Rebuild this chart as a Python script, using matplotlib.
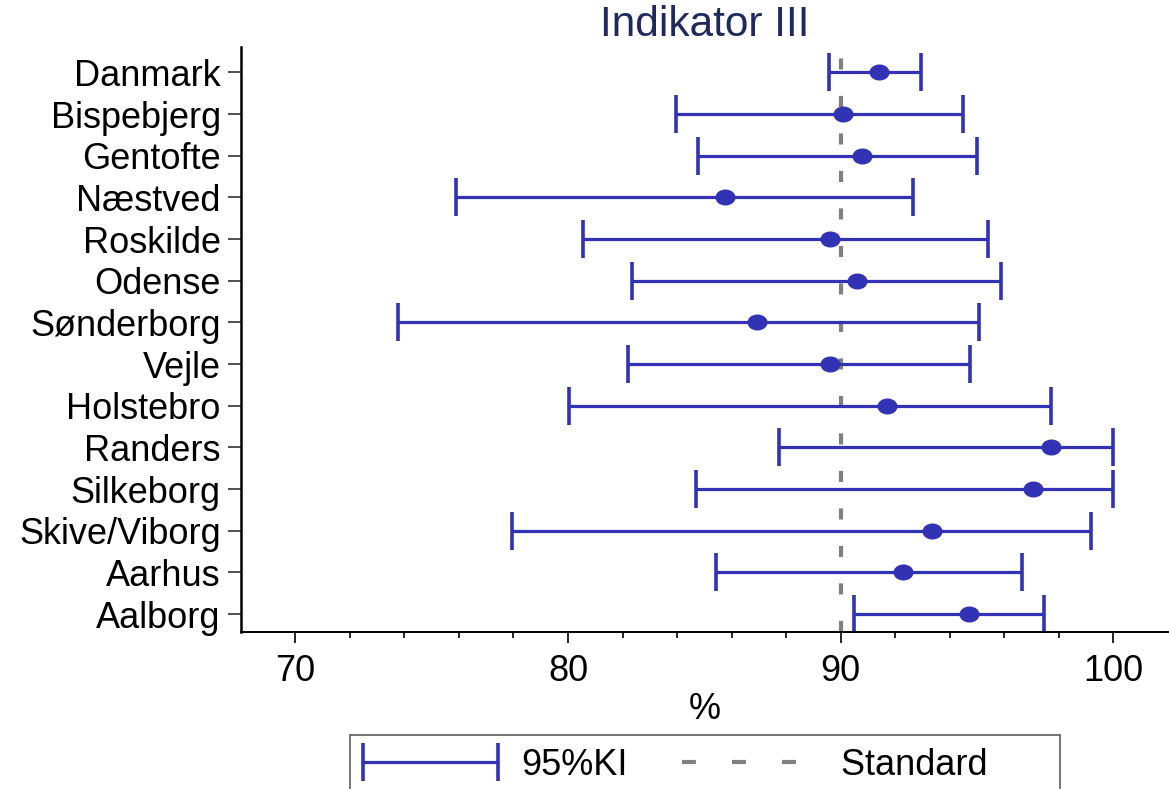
import numpy as np
import matplotlib
matplotlib.use("Agg")
import matplotlib.pyplot as plt
from matplotlib.path import Path
from matplotlib.transforms import Affine2D
from matplotlib.container import ErrorbarContainer
from matplotlib.legend_handler import HandlerErrorbar
from matplotlib.lines import Line2D

plt.rcParams['font.family'] = ['Liberation Sans', 'DejaVu Sans']
plt.rcParams['lines.scale_dashes'] = False

# data
hospitals = ['Danmark', 'Bispebjerg', 'Gentofte', 'Næstved', 'Roskilde', 'Odense',
             'Sønderborg', 'Vejle', 'Holstebro', 'Randers', 'Silkeborg',
             'Skive/Viborg', 'Aarhus', 'Aalborg']
estimate = [91.4, 90.1, 90.8, 85.75, 89.6, 90.6, 86.95, 89.6, 91.7, 97.7, 97.07,
            93.35, 92.3, 94.7]
ci_low = [89.57, 83.96, 84.78, 75.9, 80.56, 82.33, 73.78, 82.2, 80.05, 87.74, 84.7,
          77.96, 85.42, 90.5]
ci_high = [92.94, 94.48, 95.0, 92.65, 95.42, 95.87, 95.07, 94.73, 97.72, 100.0, 100.0,
           99.18, 96.65, 97.45]
standard = 90
xticks_major = [70, 80, 90, 100]

blue = '#3232b4'
grey = '#808080'

fig = plt.figure(figsize=(11.69, 7.89), dpi=100)
ax = fig.add_axes([0.206, 0.199, 0.793, 0.741])

n = len(hospitals)
ypos = np.arange(n, 0, -1)
est = np.array(estimate)
err = [est - np.array(ci_low), np.array(ci_high) - est]

ax.axvline(standard, color=grey, lw=3.0, dashes=(8, 19), zorder=1)

eb = ax.errorbar(est, ypos, xerr=err, fmt='none', ecolor=blue, elinewidth=2.3,
                 capsize=13.5, capthick=2.6, zorder=2)

# slightly flattened dot, like the reference
ellipse = Path.unit_circle().transformed(Affine2D().scale(1.0, 0.78))
ax.plot(est, ypos, linestyle='none', marker=ellipse, markersize=13.5,
        color=blue, zorder=3)

ax.set_xlim(68, 102)
ax.set_ylim(0.57, n + 0.6)
ax.set_yticks(ypos)
ax.set_yticklabels(hospitals, fontsize=26)
ax.set_xticks(xticks_major)
ax.set_xticks(np.arange(72, 102, 2), minor=True)
ax.tick_params(axis='x', which='major', labelsize=26, length=8, width=1.2, pad=8)
ax.tick_params(axis='x', which='minor', length=4, width=1.2)
ax.tick_params(axis='y', length=9.5, width=1.2, color='#333333', pad=5)

for side in ['top', 'right']:
    ax.spines[side].set_visible(False)
ax.spines['left'].set_linewidth(1.8)
ax.spines['bottom'].set_linewidth(1.4)

ax.set_xlabel('%', fontsize=26, labelpad=2)
ax.set_title('Indikator III', fontsize=30.5, color='#1f2a5c', pad=8)

std_handle = Line2D([], [], color=grey, lw=3.0, dashes=(10, 26))
leg = fig.legend([eb, std_handle], ['95%KI', 'Standard      '],
                 loc='upper center', bbox_to_anchor=(705 / 1169, 1 - 735 / 789),
                 ncol=2, fontsize=26, frameon=True, fancybox=False,
                 edgecolor='#333333', handlelength=3.75, handletextpad=0.65,
                 columnspacing=1.5, borderpad=0.35, borderaxespad=0,
                 handler_map={ErrorbarContainer: HandlerErrorbar(xerr_size=1.875)})
leg.get_frame().set_linewidth(1.2)

fig.savefig('out.png', dpi=100)
